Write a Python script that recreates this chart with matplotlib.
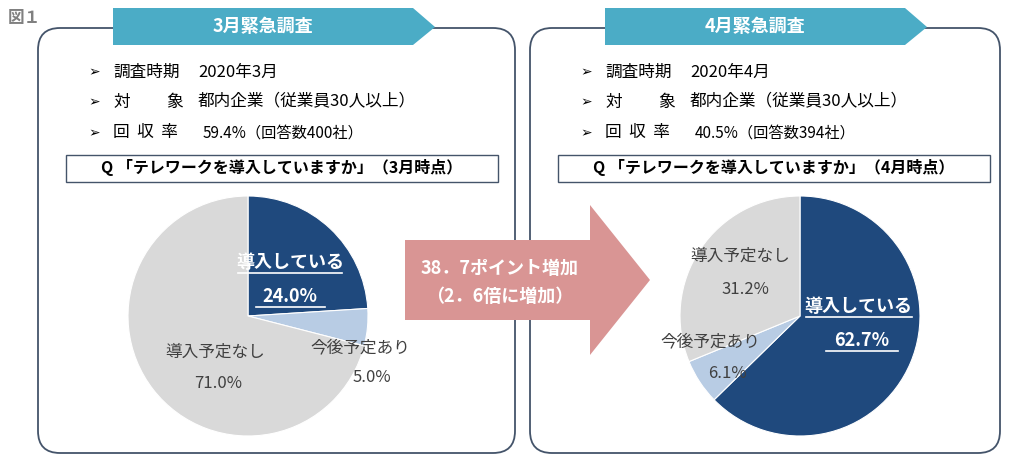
import matplotlib.pyplot as plt
from matplotlib.patches import FancyBboxPatch, Polygon, Rectangle

plt.rcParams['font.family'] = 'Noto Sans CJK JP'

labels = ['導入している', '今後予定あり', '導入予定なし']
march = [24.0, 5.0, 71.0]
april = [62.7, 6.1, 31.2]
colors = ['#1f497d', '#b8cce4', '#d9d9d9']

W, H = 1024, 470
fig = plt.figure(figsize=(W / 100, H / 100), dpi=100)
bg = fig.add_axes([0, 0, 1, 1])
bg.set_xlim(0, W)
bg.set_ylim(H, 0)
bg.axis('off')

bg.text(8, 18, '図１', fontsize=12, color='#808080', fontweight='bold', va='center')

panels = [
    (38, 477, '3月緊急調査', '2020年3月', '59.4%（回答数400社）', '3月時点'),
    (530, 470, '4月緊急調査', '2020年4月', '40.5%（回答数394社）', '4月時点'),
]
for x0, w, title, period, rate, when in panels:
    bg.add_patch(FancyBboxPatch((x0, 28), w, 425, boxstyle='round,pad=0,rounding_size=22',
                                fc='white', ec='#44546a', lw=1.3))
    bx = x0 + 75
    bg.add_patch(Polygon([(bx, 8), (bx + 300, 8), (bx + 322, 27), (bx + 300, 45), (bx, 45)],
                         closed=True, fc='#4bacc6', ec='none'))
    bg.text(bx + 150, 27, title, color='white', fontsize=13, fontweight='bold', ha='center', va='center')
    tx = x0 + 50
    for yy in (72, 102, 133):
        bg.text(tx, yy, '➢', fontsize=10, va='center', fontfamily='DejaVu Sans')
    bg.text(tx + 25, 72, '調査時期', fontsize=12, va='center')
    bg.text(tx + 110, 72, period, fontsize=12, va='center')
    bg.text(tx + 25, 102, '対', fontsize=12, va='center')
    bg.text(tx + 78, 102, '象', fontsize=12, va='center')
    bg.text(tx + 110, 102, '都内企業（従業員30人以上）', fontsize=12, va='center')
    bg.text(tx + 25, 133, '回  収  率', fontsize=12, va='center')
    bg.text(tx + 115, 133, rate, fontsize=11, va='center')
    bg.add_patch(Rectangle((x0 + 28, 155), 432, 27, fc='white', ec='#44546a', lw=1))
    bg.text(x0 + 244, 168, 'Q 「テレワークを導入していますか」（' + when + '）', fontsize=11.5,
            fontweight='bold', ha='center', va='center')


def draw_pie(cx, cy, r, vals):
    ax = fig.add_axes([(cx - r) / W, 1 - (cy + r) / H, 2 * r / W, 2 * r / H])
    ax.pie(vals, colors=colors, startangle=90, counterclock=False,
           wedgeprops=dict(linewidth=0.8, edgecolor='white'))
    ax.set_xlim(-1, 1)
    ax.set_ylim(-1, 1)
    ax.set_aspect('equal')
    ax.axis('off')


draw_pie(248, 316, 120, march)
draw_pie(800, 316, 120, april)

# overlay for arrow and labels
top = fig.add_axes([0, 0, 1, 1])
top.set_xlim(0, W)
top.set_ylim(H, 0)
top.axis('off')
top.patch.set_alpha(0)

top.add_patch(Polygon([(405, 240), (590, 240), (590, 205), (650, 280), (590, 355), (590, 320), (405, 320)],
                      closed=True, fc='#d99594', ec='none'))
top.text(500, 268, '38．7ポイント増加', color='white', fontsize=13, fontweight='bold', ha='center', va='center')
top.text(500, 297, '（2．6倍に増加）', color='white', fontsize=13, fontweight='bold', ha='center', va='center')

# left labels
top.text(290, 262, labels[0], color='white', fontsize=13, fontweight='bold', ha='center', va='center')
top.plot([238, 342], [273, 273], color='white', lw=1.2)
top.text(290, 296, f'{march[0]:.1f}%', color='white', fontsize=13, fontweight='bold', ha='center', va='center')
top.plot([256, 325], [307, 307], color='white', lw=1.2)
top.text(360, 348, labels[1], color='#404040', fontsize=12, ha='center', va='center')
top.text(372, 378, f'{march[1]:.1f}%', color='#404040', fontsize=12, ha='center', va='center')
top.text(215, 352, labels[2], color='#404040', fontsize=12, ha='center', va='center')
top.text(218, 384, f'{march[2]:.1f}%', color='#404040', fontsize=12, ha='center', va='center')

# right labels
top.text(858, 306, labels[0], color='white', fontsize=13, fontweight='bold', ha='center', va='center')
top.plot([806, 912], [317, 317], color='white', lw=1.2)
top.text(862, 340, f'{april[0]:.1f}%', color='white', fontsize=13, fontweight='bold', ha='center', va='center')
top.plot([826, 898], [351, 351], color='white', lw=1.2)
top.text(710, 342, labels[1], color='#404040', fontsize=12, ha='center', va='center')
top.text(727, 374, f'{april[1]:.1f}%', color='#404040', fontsize=12, ha='center', va='center')
top.text(740, 256, labels[2], color='#404040', fontsize=12, ha='center', va='center')
top.text(745, 290, f'{april[2]:.1f}%', color='#404040', fontsize=12, ha='center', va='center')

fig.savefig('out.png', dpi=100, facecolor='white')
